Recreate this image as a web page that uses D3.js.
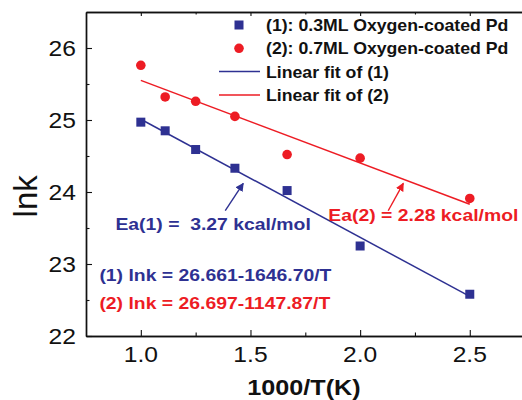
<!DOCTYPE html>
<html>
<head>
<meta charset="utf-8">
<script src="https://cdn.jsdelivr.net/npm/d3@7"></script>
<style>
  body { margin: 0; background: #fff; }
  svg { display: block; font-family: "Liberation Sans", Arial, sans-serif; }
  text { white-space: pre; }
</style>
</head>
<body>
<div id="chart"></div>
<script>
// inverse temperature 1000/T and ln k for both coverages
const invT = [1.0, 1.111, 1.25, 1.429, 1.667, 2.0, 2.5];
const lnk1 = [24.97, 24.85, 24.59, 24.33, 24.02, 23.25, 22.58];
const lnk2 = [25.76, 25.32, 25.26, 25.05, 24.52, 24.47, 23.91];

// fitted lines, end points
const fit1 = [[1.0, 25.01], [2.5, 22.55]];
const fit2 = [[1.0, 25.55], [2.5, 23.83]];

const legendLabels = ["(1): 0.3ML Oxygen-coated Pd", "(2): 0.7ML Oxygen-coated Pd",
                      "Linear fit of (1)", "Linear fit of (2)"];
const xTicks = [1.0, 1.5, 2.0, 2.5];
const yTicks = [22, 23, 24, 25, 26];

const blue = "#2e3192", red = "#ed1c24";

const width = 522, height = 400;
const margin = {top: 12, left: 86, bottom: 64};

const svg = d3.select("#chart").append("svg")
    .attr("width", width)
    .attr("height", height);

const x = d3.scaleLinear().domain([0.75, 2.75]).range([margin.left, margin.left + 2 * 219.3]);
const y = d3.scaleLinear().domain([22, 26.5]).range([height - margin.bottom, margin.top]);

// text in the picture runs a bit wide, so stretch it horizontally
function label(sel, px, py, str, size, opts = {}) {
    let g = sel.append("g")
        .attr("transform", `translate(${px},${py}) scale(${opts.sx || 1.12},1)`);
    return g.append("text")
        .attr("font-size", size)
        .attr("font-weight", opts.bold ? "bold" : "normal")
        .attr("fill", opts.color || "#111")
        .attr("text-anchor", opts.anchor || "start")
        .text(str);
}

// axes: inward ticks, frame on top
svg.append("g")
    .attr("transform", `translate(0,${y(22)})`)
    .call(d3.axisBottom(x).tickValues(xTicks).tickSizeInner(-6).tickSizeOuter(0).tickFormat(""));
svg.append("g")
    .attr("transform", `translate(0,${y(22)})`)
    .call(d3.axisBottom(x).tickValues([1.25, 1.75, 2.25]).tickSizeInner(-3.5).tickSizeOuter(0).tickFormat(""));
svg.append("g")
    .attr("transform", `translate(0,${y(26.5)})`)
    .call(d3.axisTop(x).tickValues(xTicks).tickSizeInner(-4).tickSizeOuter(0).tickFormat(""));
svg.append("g")
    .attr("transform", `translate(0,${y(26.5)})`)
    .call(d3.axisTop(x).tickValues([1.25, 1.75, 2.25]).tickSizeInner(-2.5).tickSizeOuter(0).tickFormat(""));
svg.append("g")
    .attr("transform", `translate(${x(0.75)},0)`)
    .call(d3.axisLeft(y).tickValues(yTicks).tickSizeInner(-6).tickSizeOuter(0).tickFormat(""));
svg.append("g")
    .attr("transform", `translate(${x(0.75)},0)`)
    .call(d3.axisLeft(y).tickValues([22.5, 23.5, 24.5, 25.5]).tickSizeInner(-3.5).tickSizeOuter(0).tickFormat(""));

svg.selectAll(".domain").attr("stroke", "#111").attr("stroke-width", 1.4);
svg.selectAll(".tick line").attr("stroke", "#111").attr("stroke-width", 1.1);

xTicks.forEach(v => label(svg, x(v), y(22) + 25.5, d3.format(".1f")(v), 22, {anchor: "middle"}));
yTicks.forEach(v => label(svg, x(0.75) - 10, y(v) + 8, v, 22, {anchor: "end"}));

label(svg, 304, 395, "1000/T(K)", 22.5, {bold: true, anchor: "middle"});
svg.append("text")
    .attr("transform", `translate(37,${y(23.94)}) rotate(-90)`)
    .attr("font-size", 33)
    .attr("text-anchor", "middle")
    .attr("fill", "#111")
    .text("lnk");

// fit lines
let line = d3.line().x(d => x(d[0])).y(d => y(d[1]));
svg.append("path").datum(fit1).attr("d", line).attr("stroke", blue).attr("stroke-width", 1.5).attr("fill", "none");
svg.append("path").datum(fit2).attr("d", line).attr("stroke", red).attr("stroke-width", 1.5).attr("fill", "none");

// data points
svg.selectAll(".sq").data(invT.map((v, i) => [v, lnk1[i]])).enter()
    .append("rect")
    .attr("class", "sq")
    .attr("x", d => x(d[0]) - 4.5).attr("y", d => y(d[1]) - 4.5)
    .attr("width", 9).attr("height", 9)
    .attr("fill", blue);
svg.selectAll(".dot").data(invT.map((v, i) => [v, lnk2[i]])).enter()
    .append("circle")
    .attr("class", "dot")
    .attr("cx", d => x(d[0])).attr("cy", d => y(d[1]))
    .attr("r", 4.8)
    .attr("fill", red);

// legend
let lx = 239, ly = 25, step = 23.3;
svg.append("rect").attr("x", lx - 4.5).attr("y", ly - 4.5).attr("width", 9).attr("height", 9).attr("fill", blue);
svg.append("circle").attr("cx", lx).attr("cy", ly + step).attr("r", 4.8).attr("fill", red);
svg.append("line").attr("x1", 219).attr("x2", 260).attr("y1", ly + 2 * step).attr("y2", ly + 2 * step)
    .attr("stroke", blue).attr("stroke-width", 1.5);
svg.append("line").attr("x1", 219).attr("x2", 260).attr("y1", ly + 3 * step).attr("y2", ly + 3 * step)
    .attr("stroke", red).attr("stroke-width", 1.5);
legendLabels.forEach((t, i) => label(svg, 266, ly + i * step + 6, t, 15.8, {bold: true}));

// annotations (data units)
const arrows = [
    {from: [1.385, 23.74], to: [1.467, 24.12], color: blue},
    {from: [2.128, 23.74], to: [2.197, 24.12], color: red}
];
const notes = [
    {at: [0.884, 23.47], text: "Ea(1) =  3.27 kcal/mol", color: blue},
    {at: [1.855, 23.60], text: "Ea(2) = 2.28 kcal/mol", color: red},
    {at: [0.811, 22.76], text: "(1) lnk = 26.661-1646.70/T", color: blue},
    {at: [0.811, 22.375], text: "(2) lnk = 26.697-1147.87/T", color: red}
];

let defs = svg.append("defs");
arrows.forEach((a, i) => {
    defs.append("marker")
        .attr("id", "head" + i)
        .attr("viewBox", "0 0 10 10")
        .attr("refX", 9).attr("refY", 5)
        .attr("markerWidth", 6).attr("markerHeight", 6)
        .attr("markerUnits", "strokeWidth")
        .attr("orient", "auto")
        .append("path")
        .attr("d", "M0,0 L10,5 L0,10 z")
        .attr("fill", a.color);
    svg.append("line")
        .attr("x1", x(a.from[0])).attr("y1", y(a.from[1]))
        .attr("x2", x(a.to[0])).attr("y2", y(a.to[1]))
        .attr("stroke", a.color).attr("stroke-width", 1.4)
        .attr("marker-end", `url(#head${i})`);
});
notes.forEach(n => label(svg, x(n.at[0]), y(n.at[1]), n.text, 17.3, {bold: true, color: n.color}));
</script>
</body>
</html>
